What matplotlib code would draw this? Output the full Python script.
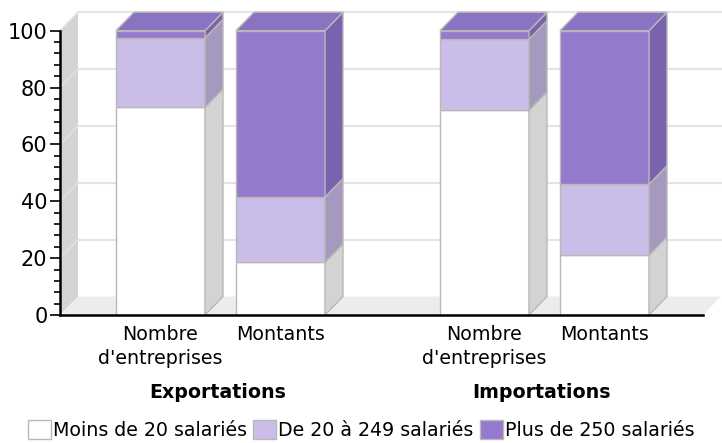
import matplotlib
matplotlib.use("Agg")
import matplotlib.pyplot as plt
from matplotlib.patches import Polygon, Rectangle
from matplotlib.ticker import FixedLocator
import numpy as np

plt.rcParams['font.family'] = ['DejaVu Sans']

# share of each size class (%), one value per bar
groups = ["Exportations", "Importations"]
measures = ["Nombre\nd'entreprises", "Montants"]
moins_20 = [73, 18.5, 72, 21]
de_20_249 = [24.5, 23, 25, 25]
plus_250 = [2.5, 58.5, 3, 54]
series_names = ["Moins de 20 salariés", "De 20 à 249 salariés", "Plus de 250 salariés"]

# face / side / top colours for each series
front_cols = ["#ffffff", "#cabde8", "#9479cc"]
side_cols = ["#d3d3d3", "#a699be", "#7a63ae"]
top_cols = ["#f0f0f0", "#b9acd8", "#8c72c2"]
edge_col = "#b8b8b8"
fs = 13.7

W, H = 722, 443
fig = plt.figure(figsize=(W / 100, H / 100), dpi=100)

# plot area in pixels
px_left, px_right, px_bottom, px_top = 60, 722, 315, 0
px_per_unit = 2.843          # vertical pixels per percent
px_per_slot = 120            # horizontal pixels per bar slot
ax = fig.add_axes([px_left / W, (H - px_bottom) / H,
                   (px_right - px_left) / W, (px_bottom - px_top) / H])

# bar slots: two bars per group, gap between groups
group_gap = 1.7
xpos = []
for g in range(len(groups)):
    for m in range(len(measures)):
        xpos.append(g * (1 + group_gap) + m)
xpos = np.array(xpos)
bar_w = 89 / px_per_slot

x0 = xpos[0] - 100.5 / px_per_slot
x1 = x0 + (px_right - px_left) / px_per_slot
ax.set_xlim(x0, x1)
ax.set_ylim(0, (px_bottom - px_top) / px_per_unit)

# 3d depth offsets
dx = 18 / px_per_slot
dy = 18.5 / px_per_unit
x_floor_end = x0 + (703 - px_left) / px_per_slot

# left wall, floor and back grid
ax.add_patch(Polygon([(x0, 0), (x0 + dx, dy), (x0 + dx, 100 + dy), (x0, 100)],
                     closed=True, fc="#d4d4d4", ec="none", zorder=0))
ax.add_patch(Polygon([(x0, 0), (x_floor_end, 0), (x_floor_end + dx, dy), (x0 + dx, dy)],
                     closed=True, fc="#ececec", ec="none", zorder=0))
for v in range(20, 101, 20):
    ax.plot([x0 + dx, x1], [v + dy, v + dy], color="#e4e4e4", lw=1.5, zorder=0.5)
    ax.plot([x0, x0 + dx], [v, v + dy], color="#e2e2e2", lw=1, zorder=0.5)

# stacked 3d bars
stack = [moins_20, de_20_249, plus_250]
for i, xc in enumerate(xpos):
    left, right = xc - bar_w / 2, xc + bar_w / 2
    bottom = 0
    for s, vals in enumerate(stack):
        h = vals[i]
        ax.add_patch(Rectangle((left, bottom), bar_w, h, fc=front_cols[s],
                               ec=edge_col, lw=1, zorder=3))
        ax.add_patch(Polygon([(right, bottom), (right + dx, bottom + dy),
                              (right + dx, bottom + h + dy), (right, bottom + h)],
                             closed=True, fc=side_cols[s], ec=edge_col, lw=1, zorder=3))
        bottom += h
    ax.add_patch(Polygon([(left, bottom), (left + dx, bottom + dy),
                          (right + dx, bottom + dy), (right, bottom)],
                         closed=True, fc=top_cols[2], ec=edge_col, lw=1, zorder=3))

# axes styling
for sp in ["top", "right"]:
    ax.spines[sp].set_visible(False)
ax.spines["left"].set_bounds(0, 100)
ax.spines["bottom"].set_bounds(x0, x_floor_end)
ax.spines["left"].set_linewidth(1.8)
ax.spines["bottom"].set_linewidth(1.8)
ax.spines["left"].set_zorder(5)
ax.spines["bottom"].set_zorder(5)
ax.yaxis.set_major_locator(FixedLocator(range(0, 101, 20)))
ax.yaxis.set_minor_locator(FixedLocator(range(0, 101, 4)))
ax.tick_params(axis="y", which="major", length=7, width=1.2, pad=2, labelsize=15)
ax.tick_params(axis="y", which="minor", length=4, width=1.2)

ax.set_xticks(xpos)
ax.set_xticklabels(measures * len(groups), fontsize=fs, linespacing=1.35)
ax.tick_params(axis="x", length=0, pad=7)

for g, name in enumerate(groups):
    gc = xpos[2 * g:2 * g + 2].mean()
    ax.annotate(name, xy=(gc, 0), xycoords="data", xytext=(-2, -56),
                textcoords="offset points", ha="center", va="center",
                fontsize=fs, fontweight="bold", annotation_clip=False)

# legend
handles = [Rectangle((0, 0), 1, 1, fc=front_cols[s], ec=edge_col, lw=1)
           for s in range(3)]
fig.legend(handles, series_names, loc="center", bbox_to_anchor=(0.5, (H - 430) / H),
           ncol=3, frameon=False, fontsize=fs, handlelength=1.2, handleheight=1.2,
           handletextpad=0.1, columnspacing=0.35, borderaxespad=0, borderpad=0)

fig.savefig("out.png", dpi=100)
